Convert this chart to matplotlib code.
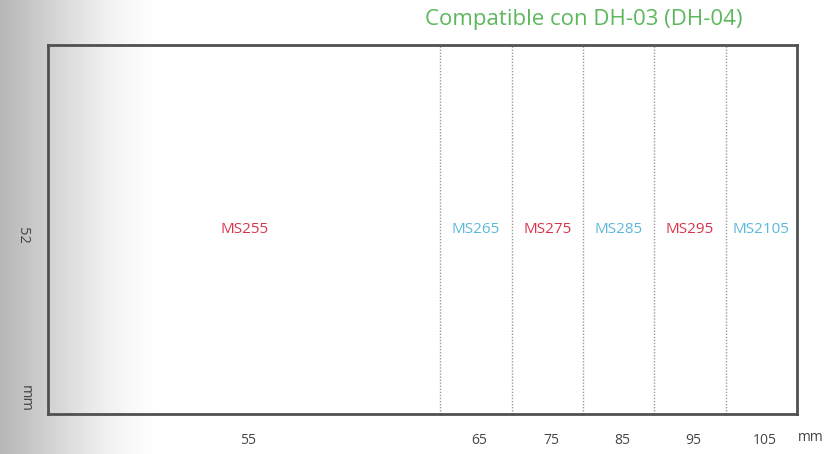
import numpy as np
import matplotlib.pyplot as plt

# Segment data (mm)
models = ['MS255', 'MS265', 'MS275', 'MS285', 'MS295', 'MS2105']
edges = [0, 55, 65, 75, 85, 95, 105]
tick_labels = ['55', '65', '75', '85', '95', '105']
label_colors = ['#d8344c', '#5bb8dc', '#d8344c', '#5bb8dc', '#d8344c', '#5bb8dc']
title = 'Compatible con DH-03 (DH-04)'
height_label = '52'

plt.rcParams['font.family'] = ['Open Sans', 'DejaVu Sans']

fig = plt.figure(figsize=(8.37, 4.54), dpi=100)

# grey fade on the left side of the picture
bg = fig.add_axes([0, 0, 1, 1], zorder=-1)
xs = np.linspace(0, 1, 837)
shade = np.clip(xs / 0.21, 0, 1)
shade = np.sin(shade * np.pi / 2) ** 1.2
grad = 0.72 + 0.28 * shade
bg.imshow(np.tile(grad, (10, 1)), cmap='gray', vmin=0, vmax=1, aspect='auto',
          extent=[0, 1, 0, 1])
bg.axis('off')

ax = fig.add_axes([0.0573, 0.088, 0.895, 0.813])
ax.set_facecolor('none')
ax.set_xlim(edges[0], edges[-1])
ax.set_ylim(0, 1)

# dotted separators between sizes
for e in edges[1:-1]:
    ax.axvline(e, color='#9a9a9a', lw=1.0, ls=(0, (1, 1.2)))

centers = [(edges[i] + edges[i + 1]) / 2 for i in range(len(models))]
for c, m, col in zip(centers, models, label_colors):
    ax.text(c, 0.5, m, color=col, fontsize=11, ha='center', va='center')

for s in ax.spines.values():
    s.set_color('#505050')
    s.set_linewidth(2.0)

ax.set_xticks([c + 0.5 for c in centers])
ax.set_xticklabels(tick_labels, fontsize=10, color='#444444')
ax.tick_params(axis='x', length=0, pad=14)
ax.set_yticks([])

fig.text(0.953, 0.037, 'mm', fontsize=10, color='#444444', ha='left', va='center')
fig.text(0.027, 0.482, height_label, fontsize=10.5, color='#444444', rotation=270,
         ha='center', va='center')
fig.text(0.030, 0.122, 'mm', fontsize=10.5, color='#444444', rotation=270,
         ha='center', va='center')
fig.text(0.697, 0.956, title, fontsize=16, color='#5cb85c', ha='center', va='center')

fig.savefig('out.png', dpi=100)
